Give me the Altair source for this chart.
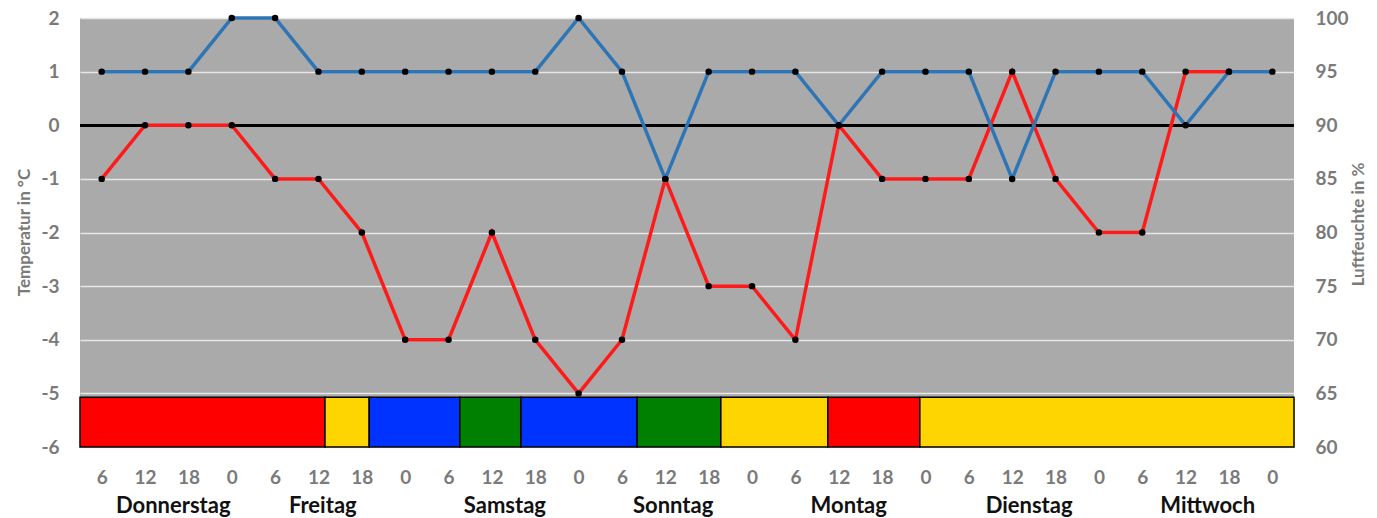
import altair as alt
import pandas as pd

# ---- data ----
hours = ["6", "12", "18", "0", "6", "12", "18", "0", "6", "12", "18", "0", "6", "12",
         "18", "0", "6", "12", "18", "0", "6", "12", "18", "0", "6", "12", "18", "0"]
temperature = [-1, 0, 0, 0, -1, -1, -2, -4, -4, -2, -4, -5, -4, -1,
               -3, -3, -4, 0, -1, -1, -1, 1, -1, -2, -2, 1, 1, None]
humidity = [95, 95, 95, 100, 100, 95, 95, 95, 95, 95, 95, 100, 95, 85,
            95, 95, 95, 90, 95, 95, 95, 85, 95, 95, 95, 90, 95, 95]
days = ["Donnerstag", "Freitag", "Samstag", "Sonntag", "Montag", "Dienstag", "Mittwoch"]
day_pos = [1.65, 5.10, 9.30, 13.18, 17.23, 21.39, 25.51]
band_start = [-0.5, 5.15, 6.17, 8.26, 9.67, 12.35, 14.28, 16.75, 18.87]
band_end = [5.15, 6.17, 8.26, 9.67, 12.35, 14.28, 16.75, 18.87, 27.5]
band_color = ["#FF0000", "#FFD500", "#0033FF", "#008000", "#0033FF",
              "#008000", "#FFD500", "#FF0000", "#FFD500"]

idx = list(range(len(hours)))
df = pd.DataFrame({"i": idx, "hour": hours, "temp": temperature, "hum": humidity})
ddf = pd.DataFrame({"day": days, "pos": day_pos})
bdf = pd.DataFrame({"s": band_start, "e": band_end, "c": band_color})

FONT = "Lato"
GRAY = "#7A7A7A"

label_expr = "[" + ",".join("'" + h + "'" for h in hours) + "][datum.value]"
hyphen_expr = "datum.value < 0 ? '-' + abs(datum.value) : '' + datum.value"

xscale = alt.Scale(domain=[-0.5, len(hours) - 0.5], nice=False, zero=False)
xaxis = alt.Axis(values=idx, labelExpr=label_expr, title=None, domain=False, ticks=False,
                 grid=False, labelPadding=21, labelFont=FONT, labelFontSize=19,
                 labelFontWeight="bold", labelColor=GRAY, labelFlush=False,
                 labelOverlap=False)
X = alt.X("i:Q", scale=xscale, axis=xaxis)

yl_scale = alt.Scale(domain=[-6, 2], nice=False, zero=False)
yl_axis = alt.Axis(values=list(range(-6, 3)), labelExpr=hyphen_expr,
                   title="Temperatur in °C", domain=False,
                   ticks=False, labelPadding=21, labelFont=FONT, labelFontSize=19,
                   labelFontWeight="bold", labelColor=GRAY, grid=True,
                   gridColor="#E6E6E6", gridWidth=1.5, titleFont=FONT,
                   titleFontSize=17, titleFontWeight="bold", titleColor=GRAY,
                   titleAngle=270, titleX=-56, titleY=214, titleBaseline="middle",
                   titleAlign="center")

yr_scale = alt.Scale(domain=[60, 100], nice=False, zero=False)
yr_axis = alt.Axis(values=list(range(60, 101, 5)), orient="right",
                   title="Luftfeuchte in %", domain=False, ticks=False, labelPadding=21,
                   labelFont=FONT, labelFontSize=19, labelFontWeight="bold",
                   labelColor=GRAY, grid=False, titleFont=FONT, titleFontSize=17,
                   titleFontWeight="bold", titleColor=GRAY, titleAngle=270,
                   titleX=64, titleY=206, titleBaseline="middle", titleAlign="center")

base = alt.Chart(df)

band = alt.Chart(bdf).mark_rect(stroke="black", strokeWidth=1.5).encode(
    x=alt.X("s:Q", scale=xscale, axis=xaxis),
    x2="e:Q",
    y=alt.Y(datum=-5.07, scale=yl_scale, axis=yl_axis),
    y2=alt.datum(-6),
    color=alt.Color("c:N", scale=None),
)

zero = base.mark_rule(color="black", strokeWidth=2.5).encode(y=alt.datum(0))

red_line = base.mark_line(color="#FF1A1A", strokeWidth=3.5).encode(
    x=X, y=alt.Y("temp:Q", scale=yl_scale, axis=yl_axis))
red_pts = base.mark_circle(color="black", size=42, opacity=1).encode(
    x=X, y=alt.Y("temp:Q", scale=yl_scale, axis=yl_axis))

day_text = alt.Chart(ddf).mark_text(font=FONT, fontSize=22, fontWeight="bold",
                                    color="#111111", baseline="alphabetic",
                                    align="center").encode(
    x=alt.X("pos:Q", scale=xscale, axis=xaxis),
    y=alt.value(495),
    text="day:N",
)

left = alt.layer(band, zero, red_line, red_pts, day_text)

blue_line = base.mark_line(color="#2E75B6", strokeWidth=3.5).encode(
    x=X, y=alt.Y("hum:Q", scale=yr_scale, axis=yr_axis))
blue_pts = base.mark_circle(color="black", size=42, opacity=1).encode(
    x=X, y=alt.Y("hum:Q", scale=yr_scale, axis=yr_axis))
right = alt.layer(blue_line, blue_pts)

chart = alt.layer(left, right).resolve_scale(y="independent").properties(
    width=1214, height=429,
    autosize=alt.AutoSizeParams(type="none"),
    padding={"left": 72, "top": 10, "right": 75, "bottom": 71},
    background="white",
).configure_view(stroke=None, fill="#AAAAAA")

chart.save("out.html", embed_options={"renderer": "svg", "actions": False})
